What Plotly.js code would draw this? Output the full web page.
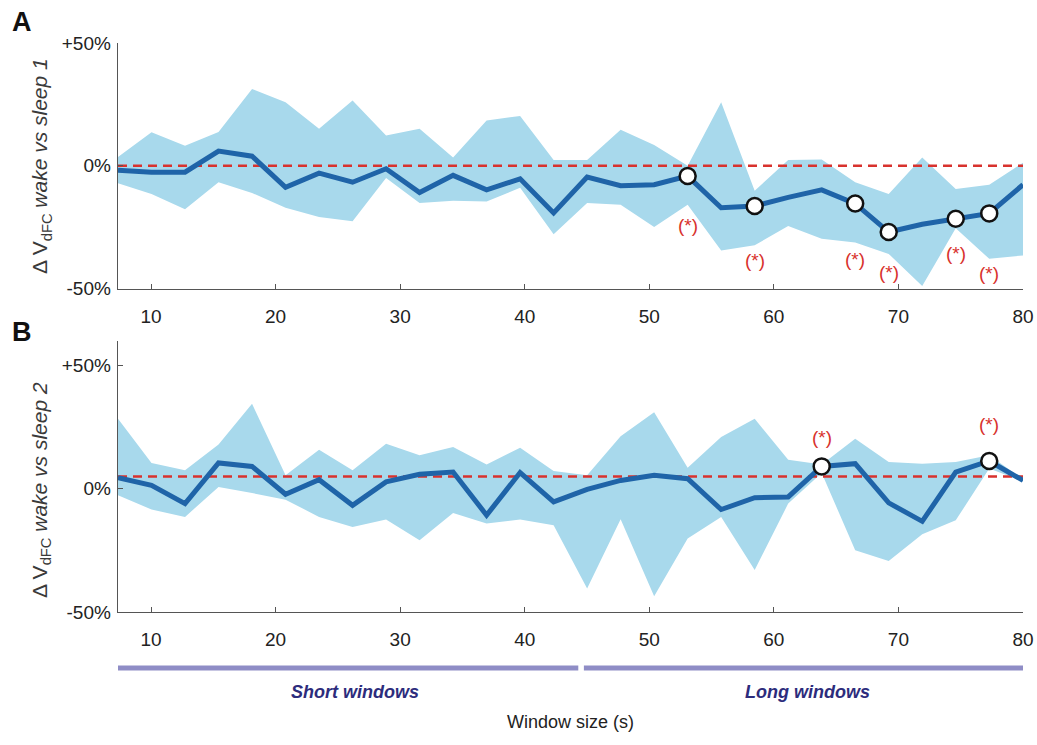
<!DOCTYPE html>
<html>
<head>
<meta charset="utf-8">
<script src="https://cdn.plot.ly/plotly-3.0.1.min.js"></script>
<style>
  html, body { margin: 0; padding: 0; background: #fff; }
  #chart { width: 1037px; height: 745px; }
</style>
</head>
<body>
<div id="chart"></div>
<script>
// ---- Data ----
const windowSizes = [7.35, 10.04, 12.73, 15.42, 18.11, 20.80, 23.49, 26.18, 28.87, 31.56,
  34.25, 36.94, 39.63, 42.32, 45.01, 47.70, 50.39, 53.08, 55.77, 58.46,
  61.15, 63.84, 66.53, 69.22, 71.91, 74.60, 77.29, 80.00];

// Panel A: wake vs sleep 1 (percent change)
const meanA  = [-1.8, -2.6, -2.6, 6.0, 3.9, -8.8, -3.0, -6.7, -1.2, -10.9,
  -3.9, -9.8, -5.3, -19.2, -4.6, -8.1, -7.7, -4.2, -17.1, -16.4,
  -12.9, -9.8, -15.4, -27.0, -23.8, -21.6, -19.4, -7.7];
const upperA = [3.6, 13.6, 8.1, 13.8, 31.3, 25.9, 15.1, 26.6, 12.3, 15.1,
  3.4, 18.4, 20.3, 2.3, 2.3, 14.7, 8.5, 0.0, 25.9, -10.2,
  2.3, 2.6, -6.7, -11.5, 3.4, -9.5, -7.7, 1.2];
const lowerA = [-7.1, -11.5, -17.7, -6.7, -11.1, -17.1, -20.9, -22.6, -5.0, -15.2,
  -14.2, -14.6, -9.0, -27.9, -15.2, -15.9, -24.9, -15.9, -34.5, -32.4,
  -24.5, -29.7, -31.3, -35.9, -49.0, -25.5, -37.9, -36.5];
const refA = 0;
const sigIdxA = [17, 19, 22, 23, 25, 26];

// Panel B: wake vs sleep 2 (percent change)
const meanB  = [4.5, 1.4, -6.0, 10.5, 9.1, -2.2, 3.7, -6.7, 2.8, 5.9,
  6.8, -10.7, 6.6, -5.3, -0.2, 3.4, 5.5, 4.1, -8.4, -3.6,
  -3.3, 9.1, 10.2, -5.7, -13.2, 6.8, 11.3, 3.4];
const upperB = [28.4, 10.5, 7.5, 18.0, 34.5, 5.5, 15.9, 7.5, 18.3, 13.6,
  17.0, 9.9, 16.7, 7.2, 5.5, 21.3, 31.1, 8.6, 21.0, 28.4,
  11.8, 9.9, 20.3, 10.9, 10.2, 10.9, 13.6, 3.8];
const lowerB = [-2.6, -8.4, -11.4, 0.7, -1.7, -4.4, -11.4, -15.5, -12.5, -20.9,
  -9.8, -14.1, -12.5, -14.8, -40.5, -12.4, -43.6, -20.2, -11.4, -33.0,
  -6.0, 6.4, -24.9, -29.3, -18.4, -12.8, 8.2, 3.0];
const refB = 5;
const sigIdxB = [21, 26];

const xTickVals = [10, 20, 30, 40, 50, 60, 70, 80];
const yTickVals = [-50, 0, 50];
const yTickText = ['-50%', '0%', '+50%'];
const groupNames = ['Short windows', 'Long windows'];
const groupRanges = [[7.35, 44.3], [44.75, 80]];
const groupLabelX = [26.4, 62.7];

// ---- Styles ----
const FONT = 'Liberation Sans, Arial, Helvetica, sans-serif';
const BAND = '#a8d9ec';
const LINE = '#1f64a8';
const RED = '#d8322e';
const AXIS = '#555555';
const starShiftA = [-49, -54, -56, -40, -35, -60];
const starShiftB = [29, 36];

function panel(mean, upper, lower, ref, sigIdx, xa, ya) {
  const x0 = windowSizes[0], x1 = windowSizes[windowSizes.length - 1];
  return [
    { x: windowSizes, y: lower, xaxis: xa, yaxis: ya, type: 'scatter', mode: 'lines',
      line: { width: 0, color: BAND }, hoverinfo: 'skip', showlegend: false },
    { x: windowSizes, y: upper, xaxis: xa, yaxis: ya, type: 'scatter', mode: 'lines',
      line: { width: 0, color: BAND }, fill: 'tonexty', fillcolor: BAND, showlegend: false },
    { x: [x0, x1], y: [ref, ref], xaxis: xa, yaxis: ya, type: 'scatter', mode: 'lines',
      line: { color: RED, width: 2.5, dash: '9px,6px' }, showlegend: false },
    { x: windowSizes, y: mean, xaxis: xa, yaxis: ya, type: 'scatter', mode: 'lines',
      line: { color: LINE, width: 5 }, showlegend: false },
    { x: sigIdx.map(i => windowSizes[i]), y: sigIdx.map(i => mean[i]), xaxis: xa, yaxis: ya,
      type: 'scatter', mode: 'markers', cliponaxis: false,
      marker: { size: 16, color: '#ffffff', line: { color: '#111111', width: 2.5 } },
      showlegend: false }
  ];
}

const data = [].concat(
  panel(meanA, upperA, lowerA, refA, sigIdxA, 'x', 'y'),
  panel(meanB, upperB, lowerB, refB, sigIdxB, 'x2', 'y2')
);

const xaxisBase = {
  range: [7.35, 80], tickvals: xTickVals, ticks: 'inside', ticklen: 5, tickwidth: 1,
  tickcolor: AXIS, showline: true, linecolor: AXIS, linewidth: 1.3, showgrid: false,
  zeroline: false, tickfont: { family: FONT, size: 19, color: '#222' }, fixedrange: true,
  ticklabelstandoff: 10
};
const yaxisBase = {
  tickvals: yTickVals, ticktext: yTickText, ticks: 'inside', ticklen: 5, tickwidth: 1,
  tickcolor: AXIS, showline: true, linecolor: AXIS, linewidth: 1.3, showgrid: false,
  zeroline: false, tickfont: { family: FONT, size: 19, color: '#222' }, fixedrange: true,
  ticklabelstandoff: 2
};

const annotations = [];
sigIdxA.forEach((i, k) => annotations.push({
  x: windowSizes[i], y: meanA[i], xref: 'x', yref: 'y', text: '(*)', showarrow: false,
  xanchor: 'center', yanchor: 'middle',
  yshift: starShiftA[k], font: { family: FONT, size: 19, color: RED }
}));
sigIdxB.forEach((i, k) => annotations.push({
  x: windowSizes[i], y: meanB[i], xref: 'x2', yref: 'y2', text: '(*)', showarrow: false,
  xanchor: 'center', yanchor: 'middle',
  yshift: starShiftB[k], font: { family: FONT, size: 19, color: RED }
}));
annotations.push(
  { xref: 'paper', yref: 'paper', x: -0.119, y: 1.037, xanchor: 'left', yanchor: 'middle',
    text: '<b>A</b>', showarrow: false, font: { family: FONT, size: 27, color: '#111' } },
  { xref: 'paper', yref: 'paper', x: -0.119, y: 0.492, xanchor: 'left', yanchor: 'middle',
    text: '<b>B</b>', showarrow: false, font: { family: FONT, size: 27, color: '#111' } },
  { xref: 'paper', yref: 'paper', x: -0.085, y: 0.784, xanchor: 'center', yanchor: 'middle',
    textangle: -90, showarrow: false,
    text: 'Δ V<sub>dFC</sub> <i>wake vs sleep 1</i>', font: { family: FONT, size: 21, color: '#3a3a3a' } },
  { xref: 'paper', yref: 'paper', x: -0.085, y: 0.2144, xanchor: 'center', yanchor: 'middle',
    textangle: -90, showarrow: false,
    text: 'Δ V<sub>dFC</sub> <i>wake vs sleep 2</i>', font: { family: FONT, size: 21, color: '#3a3a3a' } },
  { xref: 'paper', yref: 'paper', x: 0.5, y: -0.1933, xanchor: 'center', yanchor: 'middle',
    showarrow: false, text: 'Window size (s)', font: { family: FONT, size: 18, color: '#222' } }
);
groupNames.forEach((name, k) => annotations.push({
  xref: 'x2', yref: 'paper', x: groupLabelX[k], y: -0.1406, xanchor: 'center', yanchor: 'middle',
  showarrow: false, text: '<b><i>' + name + '</i></b>',
  font: { family: FONT, size: 18, color: '#2d2c7c' }
}));

const shapes = groupRanges.map(r => ({
  type: 'line', xref: 'x2', yref: 'paper', x0: r[0], x1: r[1],
  y0: -0.0984, y1: -0.0984, line: { color: '#8f8dc6', width: 5 }
}));

const layout = {
  width: 1037, height: 745,
  margin: { l: 118, r: 14, t: 43, b: 133 },
  paper_bgcolor: '#ffffff', plot_bgcolor: '#ffffff',
  showlegend: false,
  xaxis: Object.assign({}, xaxisBase, { anchor: 'y', domain: [0, 1] }),
  yaxis: Object.assign({}, yaxisBase, { range: [-50, 50], domain: [0.5685, 1], anchor: 'x' }),
  xaxis2: Object.assign({}, xaxisBase, { anchor: 'y2', domain: [0, 1] }),
  yaxis2: Object.assign({}, yaxisBase, { range: [-50, 60], domain: [0, 0.4763], anchor: 'x2' }),
  annotations: annotations,
  shapes: shapes
};

Plotly.newPlot('chart', data, layout, { displayModeBar: false, staticPlot: true });
</script>
</body>
</html>
